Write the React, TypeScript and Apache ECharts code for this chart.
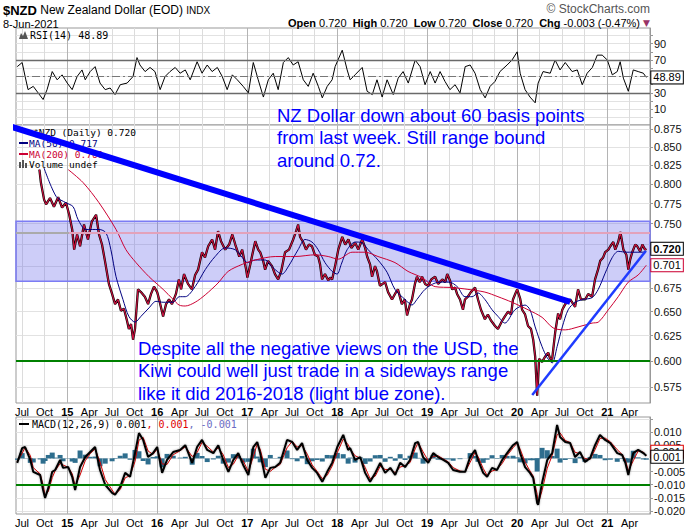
import React, { useEffect, useRef } from 'react';
import * as echarts from 'echarts';

const FONT = '"Liberation Sans", Arial, sans-serif';
const MONO = '"DejaVu Sans Mono", monospace';

// ---- Price (close) ----
const priceData: [string, number][] = [
  ['2014-09-10', 0.819], ['2014-09-16', 0.802], ['2014-09-29', 0.780], ['2014-10-07', 0.774], ['2014-10-23', 0.782], ['2014-11-08', 0.771], ['2014-11-25', 0.783], ['2014-12-11', 0.770], ['2014-12-27', 0.776],
  ['2015-01-09', 0.761], ['2015-01-21', 0.743], ['2015-01-29', 0.719], ['2015-02-10', 0.737], ['2015-02-22', 0.723], ['2015-03-10', 0.749], ['2015-03-26', 0.731], ['2015-04-11', 0.753], ['2015-04-28', 0.761], ['2015-05-10', 0.737], ['2015-05-22', 0.725], ['2015-06-03', 0.706], ['2015-06-19', 0.680], ['2015-07-02', 0.669], ['2015-07-14', 0.658], ['2015-07-26', 0.663], ['2015-08-07', 0.651], ['2015-08-19', 0.653], ['2015-08-31', 0.641], ['2015-09-08', 0.632], ['2015-09-17', 0.637], ['2015-09-25', 0.621], ['2015-10-03', 0.632], ['2015-10-15', 0.674], ['2015-10-27', 0.671], ['2015-11-12', 0.666], ['2015-11-25', 0.658], ['2015-12-07', 0.669], ['2015-12-19', 0.677],
  ['2016-01-01', 0.671], ['2016-01-09', 0.663], ['2016-01-25', 0.645], ['2016-02-06', 0.658], ['2016-02-18', 0.663], ['2016-03-01', 0.658], ['2016-03-17', 0.669], ['2016-03-29', 0.685], ['2016-04-07', 0.674], ['2016-04-19', 0.691], ['2016-05-05', 0.680], ['2016-05-21', 0.674], ['2016-06-03', 0.690], ['2016-06-15', 0.696], ['2016-07-01', 0.716], ['2016-07-13', 0.710], ['2016-07-26', 0.723], ['2016-08-11', 0.731], ['2016-08-23', 0.719], ['2016-09-04', 0.741], ['2016-09-16', 0.729], ['2016-10-03', 0.719], ['2016-10-19', 0.725], ['2016-11-01', 0.737], ['2016-11-13', 0.725], ['2016-11-29', 0.711], ['2016-12-11', 0.719], ['2016-12-27', 0.696],
  ['2017-01-01', 0.687], ['2017-01-13', 0.702], ['2017-01-21', 0.713], ['2017-02-02', 0.729], ['2017-02-14', 0.719], ['2017-02-22', 0.716], ['2017-03-06', 0.706], ['2017-03-14', 0.696], ['2017-03-26', 0.706], ['2017-04-11', 0.700], ['2017-04-23', 0.691], ['2017-05-06', 0.685], ['2017-05-18', 0.694], ['2017-06-03', 0.716], ['2017-06-19', 0.719], ['2017-07-06', 0.731], ['2017-07-18', 0.741], ['2017-07-26', 0.749], ['2017-08-03', 0.734], ['2017-08-15', 0.728], ['2017-08-27', 0.719], ['2017-09-08', 0.725], ['2017-09-20', 0.723], ['2017-10-02', 0.713], ['2017-10-15', 0.711], ['2017-10-23', 0.702], ['2017-10-31', 0.685], ['2017-11-12', 0.691], ['2017-11-25', 0.684], ['2017-12-03', 0.687], ['2017-12-11', 0.685], ['2017-12-23', 0.700],
  ['2018-01-05', 0.719], ['2018-01-21', 0.734], ['2018-02-02', 0.725], ['2018-02-15', 0.731], ['2018-02-27', 0.721], ['2018-03-15', 0.727], ['2018-03-27', 0.719], ['2018-04-12', 0.731], ['2018-04-24', 0.721], ['2018-05-02', 0.711], ['2018-05-14', 0.702], ['2018-05-22', 0.688], ['2018-06-03', 0.700], ['2018-06-11', 0.694], ['2018-06-23', 0.678], ['2018-07-14', 0.682], ['2018-07-26', 0.671], ['2018-08-11', 0.663], ['2018-08-23', 0.669], ['2018-09-04', 0.674], ['2018-09-20', 0.658], ['2018-10-02', 0.663], ['2018-10-11', 0.646], ['2018-10-23', 0.658], ['2018-10-31', 0.663], ['2018-11-12', 0.680], ['2018-11-20', 0.688], ['2018-12-02', 0.682], ['2018-12-11', 0.688], ['2018-12-23', 0.680],
  ['2019-01-05', 0.678], ['2019-01-17', 0.685], ['2019-02-02', 0.688], ['2019-02-14', 0.680], ['2019-03-03', 0.685], ['2019-03-15', 0.682], ['2019-03-23', 0.691], ['2019-04-03', 0.684], ['2019-04-12', 0.674], ['2019-04-24', 0.676], ['2019-05-02', 0.669], ['2019-05-14', 0.663], ['2019-05-26', 0.652], ['2019-06-03', 0.663], ['2019-06-15', 0.666], ['2019-06-27', 0.671], ['2019-07-14', 0.676], ['2019-07-26', 0.663], ['2019-08-07', 0.652], ['2019-08-23', 0.642], ['2019-09-04', 0.647], ['2019-09-16', 0.641], ['2019-10-03', 0.635], ['2019-10-15', 0.632], ['2019-10-31', 0.640], ['2019-11-12', 0.645], ['2019-11-25', 0.650], ['2019-12-07', 0.647], ['2019-12-15', 0.663], ['2019-12-27', 0.671],
  ['2020-01-01', 0.674], ['2020-01-13', 0.664], ['2020-01-21', 0.652], ['2020-02-02', 0.647], ['2020-02-14', 0.635], ['2020-02-26', 0.632], ['2020-03-06', 0.621], ['2020-03-14', 0.604], ['2020-03-22', 0.567], ['2020-03-30', 0.602], ['2020-04-11', 0.599], ['2020-04-23', 0.604], ['2020-05-06', 0.608], ['2020-05-14', 0.602], ['2020-05-22', 0.602], ['2020-06-03', 0.628], ['2020-06-15', 0.648], ['2020-06-23', 0.642], ['2020-07-02', 0.652], ['2020-07-14', 0.658], ['2020-08-03', 0.663], ['2020-08-23', 0.655], ['2020-09-04', 0.674], ['2020-09-16', 0.663], ['2020-10-03', 0.663], ['2020-10-15', 0.669], ['2020-10-31', 0.666], ['2020-11-12', 0.685], ['2020-11-24', 0.696], ['2020-12-03', 0.706], ['2020-12-15', 0.710], ['2020-12-23', 0.716],
  ['2021-01-05', 0.719], ['2021-01-13', 0.723], ['2021-01-25', 0.728], ['2021-02-02', 0.719], ['2021-02-14', 0.728], ['2021-02-23', 0.740], ['2021-03-07', 0.719], ['2021-03-19', 0.713], ['2021-03-27', 0.696], ['2021-04-04', 0.708], ['2021-04-12', 0.716], ['2021-04-24', 0.725], ['2021-05-02', 0.723], ['2021-05-14', 0.717], ['2021-05-23', 0.725], ['2021-06-03', 0.719], ['2021-06-08', 0.720],
];

const ma50Data: [string, number][] = [
  ['2014-09-29', 0.821], ['2014-11-17', 0.784], ['2014-12-27', 0.776], ['2015-01-25', 0.771], ['2015-02-14', 0.755], ['2015-03-18', 0.743], ['2015-05-10', 0.743], ['2015-06-07', 0.739], ['2015-06-27', 0.719], ['2015-07-18', 0.688], ['2015-08-15', 0.663], ['2015-09-08', 0.645], ['2015-10-03', 0.639], ['2015-10-27', 0.645], ['2015-11-29', 0.654], ['2015-12-27', 0.661],
  ['2016-01-25', 0.660], ['2016-03-06', 0.660], ['2016-03-30', 0.666], ['2016-04-24', 0.666], ['2016-06-03', 0.677], ['2016-07-14', 0.696], ['2016-08-23', 0.711], ['2016-10-03', 0.721], ['2016-11-12', 0.719], ['2016-12-11', 0.710],
  ['2017-01-01', 0.704], ['2017-02-02', 0.707], ['2017-03-14', 0.707], ['2017-04-12', 0.699], ['2017-05-22', 0.691], ['2017-06-15', 0.699], ['2017-07-26', 0.719], ['2017-08-23', 0.731], ['2017-09-20', 0.728], ['2017-10-15', 0.719], ['2017-11-12', 0.704], ['2017-12-11', 0.694], ['2017-12-31', 0.691],
  ['2018-01-17', 0.702], ['2018-02-10', 0.719], ['2018-03-15', 0.728], ['2018-04-12', 0.727], ['2018-05-06', 0.719], ['2018-06-15', 0.707], ['2018-07-22', 0.693], ['2018-08-23', 0.674], ['2018-10-03', 0.663], ['2018-10-31', 0.657], ['2018-11-20', 0.663], ['2018-12-23', 0.674],
  ['2019-02-02', 0.681], ['2019-03-14', 0.682], ['2019-04-12', 0.681], ['2019-05-06', 0.676], ['2019-06-03', 0.666], ['2019-07-02', 0.666], ['2019-07-26', 0.670], ['2019-08-23', 0.663], ['2019-09-21', 0.652], ['2019-10-15', 0.645], ['2019-11-12', 0.638], ['2019-12-23', 0.652],
  ['2020-02-02', 0.657], ['2020-02-22', 0.652], ['2020-03-14', 0.634], ['2020-04-11', 0.614], ['2020-05-02', 0.603], ['2020-05-22', 0.598], ['2020-06-11', 0.614], ['2020-07-02', 0.634], ['2020-07-26', 0.652], ['2020-08-23', 0.660], ['2020-09-25', 0.663], ['2020-10-31', 0.665], ['2020-11-25', 0.674], ['2020-12-23', 0.692],
  ['2021-01-21', 0.710], ['2021-02-14', 0.717], ['2021-03-22', 0.716], ['2021-04-11', 0.716], ['2021-05-22', 0.716], ['2021-06-08', 0.717],
];

const ma200Data: [string, number][] = [
  ['2015-01-05', 0.819], ['2015-03-06', 0.802], ['2015-05-10', 0.776], ['2015-07-18', 0.743], ['2015-08-27', 0.719], ['2015-10-07', 0.704], ['2015-11-29', 0.688],
  ['2016-01-25', 0.674], ['2016-03-06', 0.663], ['2016-03-30', 0.657], ['2016-04-24', 0.656], ['2016-06-03', 0.660], ['2016-07-14', 0.668], ['2016-09-04', 0.681], ['2016-10-15', 0.694], ['2016-12-11', 0.702],
  ['2017-02-02', 0.707], ['2017-04-24', 0.711], ['2017-07-14', 0.711], ['2017-10-03', 0.713], ['2017-11-25', 0.711],
  ['2018-01-05', 0.708], ['2018-03-02', 0.716], ['2018-04-24', 0.716], ['2018-06-15', 0.711], ['2018-08-23', 0.704], ['2018-10-15', 0.694], ['2018-12-11', 0.687],
  ['2019-02-02', 0.677], ['2019-04-12', 0.676], ['2019-06-15', 0.674], ['2019-08-23', 0.671], ['2019-10-15', 0.666], ['2019-12-11', 0.660],
  ['2020-02-14', 0.652], ['2020-04-11', 0.644], ['2020-05-26', 0.633], ['2020-07-14', 0.631], ['2020-09-04', 0.634], ['2020-10-31', 0.638], ['2020-11-25', 0.639],
  ['2021-01-05', 0.652], ['2021-02-14', 0.666], ['2021-03-27', 0.682], ['2021-05-06', 0.690], ['2021-06-08', 0.701],
];

// ---- RSI(14) ----
const rsiData: [string, number][] = [
  ['2014-06-12', 62], ['2014-07-02', 67], ['2014-07-14', 50], ['2014-07-26', 34], ['2014-08-16', 38], ['2014-09-05', 30], ['2014-09-25', 22], ['2014-10-11', 34], ['2014-11-01', 56], ['2014-11-21', 46], ['2014-12-11', 52],
  ['2015-01-01', 42], ['2015-01-21', 34], ['2015-02-10', 50], ['2015-03-02', 58], ['2015-03-15', 46], ['2015-04-04', 56], ['2015-04-24', 62], ['2015-05-14', 42], ['2015-06-04', 34], ['2015-06-24', 36], ['2015-07-14', 28], ['2015-08-04', 40], ['2015-09-01', 42], ['2015-09-25', 50], ['2015-10-11', 73], ['2015-10-23', 64], ['2015-11-13', 56], ['2015-12-03', 61], ['2015-12-23', 56],
  ['2016-01-13', 34], ['2016-02-02', 50], ['2016-02-22', 56], ['2016-03-14', 61], ['2016-04-03', 54], ['2016-04-24', 58], ['2016-05-14', 46], ['2016-06-11', 68], ['2016-07-01', 54], ['2016-07-22', 64], ['2016-08-11', 56], ['2016-09-01', 61], ['2016-09-21', 50], ['2016-10-11', 34], ['2016-11-01', 52], ['2016-11-21', 46], ['2016-12-15', 38],
  ['2017-01-05', 30], ['2017-01-25', 67], ['2017-02-14', 46], ['2017-03-07', 25], ['2017-03-27', 46], ['2017-04-16', 54], ['2017-05-06', 34], ['2017-05-27', 67], ['2017-06-16', 73], ['2017-07-06', 64], ['2017-07-26', 68], ['2017-08-16', 46], ['2017-09-05', 38], ['2017-09-25', 54], ['2017-10-16', 38], ['2017-11-01', 24], ['2017-11-21', 38], ['2017-12-11', 46], ['2017-12-23', 62],
  ['2018-01-21', 82], ['2018-02-10', 58], ['2018-02-22', 46], ['2018-03-14', 52], ['2018-04-12', 61], ['2018-05-02', 32], ['2018-05-23', 28], ['2018-06-11', 46], ['2018-07-02', 25], ['2018-07-22', 46], ['2018-08-16', 28], ['2018-09-05', 48], ['2018-09-25', 56], ['2018-10-16', 42], ['2018-11-13', 70], ['2018-12-03', 62], ['2018-12-23', 40],
  ['2019-01-13', 56], ['2019-02-02', 42], ['2019-02-22', 56], ['2019-03-14', 44], ['2019-04-03', 34], ['2019-04-24', 40], ['2019-05-14', 30], ['2019-06-04', 62], ['2019-06-24', 64], ['2019-07-14', 54], ['2019-08-04', 34], ['2019-08-24', 24], ['2019-09-13', 38], ['2019-10-03', 44], ['2019-10-23', 56], ['2019-11-21', 64], ['2019-12-11', 70],
  ['2020-01-01', 80], ['2020-01-13', 54], ['2020-02-02', 34], ['2020-02-22', 25], ['2020-03-14', 18], ['2020-03-26', 42], ['2020-04-15', 56], ['2020-05-14', 54], ['2020-06-03', 70], ['2020-06-23', 58], ['2020-07-14', 67], ['2020-08-11', 56], ['2020-09-01', 58], ['2020-09-21', 40], ['2020-10-11', 54], ['2020-11-01', 61], ['2020-11-21', 76], ['2020-12-11', 76],
  ['2021-01-01', 70], ['2021-01-21', 52], ['2021-02-10', 56], ['2021-02-22', 68], ['2021-03-07', 48], ['2021-03-27', 32], ['2021-04-16', 58], ['2021-05-06', 56], ['2021-05-27', 54], ['2021-06-08', 48.89],
];

// ---- MACD(12,26,9) ----
const macdDates: string[] = [
  '2014-06-12', '2014-07-02', '2014-07-14', '2014-08-04', '2014-08-16', '2014-09-13', '2014-09-25', '2014-10-03', '2014-10-16', '2014-11-01', '2014-11-13', '2014-12-03', '2014-12-15',
  '2015-01-05', '2015-01-21', '2015-02-02', '2015-02-22', '2015-03-15', '2015-04-04', '2015-04-24', '2015-05-14', '2015-06-04', '2015-07-02', '2015-07-14', '2015-08-04', '2015-08-24', '2015-09-13', '2015-10-03', '2015-10-19', '2015-11-05', '2015-11-25', '2015-12-15',
  '2016-01-01', '2016-01-21', '2016-02-10', '2016-03-06', '2016-04-03', '2016-04-24', '2016-05-22', '2016-06-11', '2016-07-01', '2016-07-22', '2016-08-16', '2016-09-05', '2016-09-25', '2016-10-16', '2016-11-05', '2016-11-25', '2016-12-15',
  '2017-01-05', '2017-01-25', '2017-02-10', '2017-02-22', '2017-03-15', '2017-04-04', '2017-04-24', '2017-05-14', '2017-06-11', '2017-07-02', '2017-07-22', '2017-08-11', '2017-09-01', '2017-09-21', '2017-10-11', '2017-11-01', '2017-11-21', '2017-12-11',
  '2018-01-01', '2018-01-25', '2018-02-14', '2018-02-22', '2018-03-14', '2018-04-04', '2018-04-24', '2018-05-14', '2018-06-04', '2018-06-24', '2018-07-14', '2018-08-04', '2018-08-24', '2018-09-13', '2018-10-03', '2018-10-23', '2018-11-13', '2018-11-25', '2018-12-15',
  '2019-01-05', '2019-01-25', '2019-02-14', '2019-03-07', '2019-03-27', '2019-04-16', '2019-05-14', '2019-06-04', '2019-06-24', '2019-07-14', '2019-07-26', '2019-08-16', '2019-09-01', '2019-09-21', '2019-10-11', '2019-11-01', '2019-11-21', '2019-12-15',
  '2020-01-01', '2020-01-13', '2020-02-02', '2020-02-22', '2020-03-06', '2020-03-22', '2020-03-26', '2020-04-11', '2020-05-02', '2020-05-22', '2020-06-11', '2020-06-23', '2020-07-14', '2020-08-03', '2020-08-23', '2020-09-12', '2020-10-02', '2020-10-23', '2020-11-12', '2020-12-02', '2020-12-23',
  '2021-01-13', '2021-02-10', '2021-03-02', '2021-03-15', '2021-03-27', '2021-04-16', '2021-05-06', '2021-05-27', '2021-06-08',
];
const macdLine: number[] = [
  -0.0017, 0.0039, 0.0043, -0.0006, -0.0051, -0.0063, -0.0120, -0.0150, -0.0113, -0.0051, -0.0044, -0.0006, -0.0036,
  -0.0033, -0.0070, -0.0120, -0.0033, 0.0005, 0.0024, 0.0043, -0.0044, -0.0100, -0.0131, -0.0138, -0.0108, -0.0055, -0.0070, 0.0020, 0.0096, 0.0070, 0.0005, 0.0020,
  0.0043, -0.0055, -0.0006, 0.0024, 0.0032, 0.0050, -0.0017, 0.0043, 0.0070, 0.0032, 0.0020, 0.0050, -0.0006, -0.0051, -0.0006, 0.0020, -0.0025,
  -0.0063, 0.0043, 0.0062, 0.0020, -0.0074, -0.0036, -0.0033, -0.0017, 0.0070, 0.0062, 0.0032, 0.0058, -0.0006, -0.0036, -0.0055, -0.0089, -0.0051, -0.0017,
  0.0043, 0.0089, 0.0032, 0.0039, -0.0006, 0.0005, -0.0055, -0.0089, -0.0055, -0.0017, -0.0055, -0.0036, -0.0063, -0.0017, -0.0033, -0.0006, 0.0058, 0.0062, 0.0005,
  -0.0017, 0.0020, 0.0005, -0.0006, -0.0017, -0.0044, -0.0051, -0.0051, 0.0005, 0.0032, -0.0006, -0.0055, -0.0070, -0.0036, -0.0044, -0.0006, 0.0020, 0.0050,
  0.0062, 0.0020, -0.0033, -0.0055, -0.0074, -0.0169, -0.0176, -0.0093, -0.0006, 0.0020, 0.0127, 0.0081, 0.0062, 0.0058, 0.0005, 0.0024, -0.0014, 0.0001, 0.0050, 0.0089, 0.0070,
  0.0058, 0.0020, 0.0013, -0.0017, -0.0063, 0.0020, 0.0032, 0.0020, 0.0010,
];
const signalLine: number[] = [
  -0.0012, 0.0019, 0.0042, 0.0011, -0.0035, -0.0059, -0.0100, -0.0140, -0.0126, -0.0073, -0.0047, -0.0019, -0.0025,
  -0.0034, -0.0058, -0.0103, -0.0063, -0.0009, 0.0018, 0.0036, -0.0014, -0.0080, -0.0120, -0.0136, -0.0118, -0.0074, -0.0065, -0.0012, 0.0069, 0.0080, 0.0028, 0.0015,
  0.0035, -0.0021, -0.0023, 0.0014, 0.0029, 0.0044, 0.0007, 0.0022, 0.0061, 0.0046, 0.0024, 0.0040, 0.0014, -0.0035, -0.0022, 0.0011, -0.0009,
  -0.0050, 0.0006, 0.0055, 0.0035, -0.0041, -0.0049, -0.0034, -0.0023, 0.0040, 0.0065, 0.0043, 0.0049, 0.0016, -0.0025, -0.0049, -0.0077, -0.0064, -0.0029,
  0.0022, 0.0073, 0.0052, 0.0036, 0.0010, 0.0001, -0.0034, -0.0077, -0.0067, -0.0030, -0.0042, -0.0042, -0.0054, -0.0033, -0.0027, -0.0016, 0.0036, 0.0060, 0.0025,
  -0.0009, 0.0007, 0.0010, -0.0002, -0.0013, -0.0035, -0.0048, -0.0051, -0.0015, 0.0023, 0.0007, -0.0038, -0.0065, -0.0048, -0.0042, -0.0019, 0.0011, 0.0040,
  0.0058, 0.0035, -0.0014, -0.0048, -0.0067, -0.0136, -0.0173, -0.0122, -0.0037, 0.0011, 0.0090, 0.0097, 0.0068, 0.0060, 0.0023, 0.0018, -0.0001, -0.0004, 0.0033, 0.0076, 0.0077,
  0.0063, 0.0033, 0.0015, -0.0006, -0.0047, -0.0009, 0.0028, 0.0024, 0.0010,
];
const histogram: number[] = [
  -0.0005, 0.0020, 0.0001, -0.0017, -0.0016, -0.0004, -0.0020, -0.0010, 0.0013, 0.0022, 0.0003, 0.0013, -0.0011,
  0.0001, -0.0012, -0.0017, 0.0030, 0.0014, 0.0006, 0.0007, -0.0030, -0.0020, -0.0011, -0.0002, 0.0010, 0.0019, -0.0005, 0.0032, 0.0027, -0.0010, -0.0023, 0.0005,
  0.0008, -0.0034, 0.0017, 0.0010, 0.0003, 0.0006, -0.0024, 0.0021, 0.0009, -0.0014, -0.0004, 0.0010, -0.0020, -0.0016, 0.0016, 0.0009, -0.0016,
  -0.0013, 0.0037, 0.0007, -0.0015, -0.0033, 0.0013, 0.0001, 0.0006, 0.0030, -0.0003, -0.0011, 0.0009, -0.0022, -0.0011, -0.0006, -0.0012, 0.0013, 0.0012,
  0.0021, 0.0016, -0.0020, 0.0003, -0.0016, 0.0004, -0.0021, -0.0012, 0.0012, 0.0013, -0.0013, 0.0006, -0.0009, 0.0016, -0.0006, 0.0010, 0.0022, 0.0002, -0.0020,
  -0.0008, 0.0013, -0.0005, -0.0004, -0.0004, -0.0009, -0.0003, 0.0000, 0.0020, 0.0009, -0.0013, -0.0017, -0.0005, 0.0012, -0.0002, 0.0013, 0.0009, 0.0010,
  0.0004, -0.0015, -0.0019, -0.0007, -0.0007, -0.0050, -0.0003, 0.0040, 0.0031, 0.0009, 0.0037, -0.0016, -0.0006, -0.0002, -0.0018, 0.0006, -0.0013, 0.0005, 0.0017, 0.0013, -0.0007,
  -0.0005, -0.0013, -0.0002, -0.0011, -0.0016, 0.0029, 0.0004, -0.0004, -0.0005,
];

// ---- Annotations (levels & trend lines) ----
const zoneLow = 0.683;
const zoneHigh = 0.753;
const supportLevel = 0.596;
const resistanceLevel = 0.7395;
const macdSupport = -0.0105;
const downTrend: [string, number][] = [['2014-04-04', 0.8832], ['2020-08-03', 0.6604]];
const upTrend: [string, number][] = [['2020-03-02', 0.5676], ['2021-06-06', 0.7175]];

// ---- Axis ticks ----
const quarterTicks: string[] = [
  '2014-07-01', '2014-10-01',
  '2015-01-01', '2015-04-01', '2015-07-01', '2015-10-01',
  '2016-01-01', '2016-04-01', '2016-07-01', '2016-10-01',
  '2017-01-01', '2017-04-01', '2017-07-01', '2017-10-01',
  '2018-01-01', '2018-04-01', '2018-07-01', '2018-10-01',
  '2019-01-01', '2019-04-01', '2019-07-01', '2019-10-01',
  '2020-01-01', '2020-04-01', '2020-07-01', '2020-10-01',
  '2021-01-01', '2021-04-01',
];
const monthNames = ['Jan', 'Feb', 'Mar', 'Apr', 'May', 'Jun', 'Jul', 'Aug', 'Sep', 'Oct', 'Nov', 'Dec'];
const priceTicks = [0.575, 0.6, 0.625, 0.65, 0.675, 0.7, 0.725, 0.75, 0.775, 0.8, 0.825, 0.85, 0.875];
const priceLabels = [0.575, 0.6, 0.625, 0.65, 0.675, 0.75, 0.775, 0.8, 0.825, 0.85, 0.875];
const rsiTicks = [0, 10, 20, 30, 40, 50, 60, 70, 80, 90, 100];
const rsiLabels = [10, 30, 70, 90];
const macdTicks = [-0.02, -0.015, -0.01, -0.005, 0, 0.005, 0.01, 0.015];
const macdLabels = [-0.02, -0.015, -0.01, -0.005, 0.005, 0.01];

const toTs = (s: string) => {
  const p = s.split('-');
  return Date.UTC(+p[0], +p[1] - 1, +p[2]);
};
const pairs = (arr: [string, number][]) => arr.map(([d, v]) => [toTs(d), v]);

const X_MIN = Date.UTC(2014, 5, 7);
const X_MAX = Date.UTC(2021, 5, 23);
const qTs = quarterTicks.map(toTs);

const fmtX = (v: number) => {
  const d = new Date(v);
  const m = d.getUTCMonth();
  if (m === 0) return '{y|' + String(d.getUTCFullYear()).slice(2) + '}';
  return monthNames[m];
};

const mkX = (gridIndex: number, showLabels: boolean) => ({
  type: 'value',
  gridIndex,
  min: X_MIN,
  max: X_MAX,
  axisLine: { show: false },
  axisTick: { show: false, customValues: qTs },
  axisLabel: {
    show: showLabels,
    customValues: qTs,
    formatter: fmtX,
    margin: 3,
    fontSize: 11,
    color: '#000',
    fontFamily: FONT,
    rich: { y: { fontWeight: 'bold', fontSize: 11, fontFamily: FONT, color: '#000' } },
  },
  splitLine: { show: true, lineStyle: { color: ['#dcdcdc', '#dcdcdc', '#b4b4b4', '#dcdcdc'], width: 1 } },
});

const mkY = (gridIndex: number, ticks: number[], labels: number[], fmt: (v: number) => string, extra: any) => ({
  gridIndex,
  position: 'right',
  axisLine: { show: true, lineStyle: { color: '#999' } },
  axisTick: { show: true, length: 3, lineStyle: { color: '#999' }, customValues: ticks },
  axisLabel: { customValues: labels, formatter: fmt, fontSize: 11, color: '#111', fontFamily: FONT, margin: 4 },
  splitLine: { show: true, lineStyle: { color: '#e2e2e2' } },
  ...extra,
});

const tag = (border: string, bold: boolean, offset?: number[]) => ({
  show: true,
  distance: 5,
  offset: offset || [0, 0],
  backgroundColor: '#fff',
  borderColor: border,
  borderWidth: 1,
  padding: [1, 2, 0, 2],
  fontSize: 11,
  fontFamily: FONT,
  fontWeight: bold ? 'bold' : 'normal',
  color: '#000',
});

const gridBase = { left: 16, right: 50, show: true, borderColor: '#999', borderWidth: 1, backgroundColor: '#fff', containLabel: false, outerBoundsMode: 'none' };

const option: any = {
  animation: false,
  backgroundColor: '#fff',
  grid: [
    { ...gridBase, top: 28, height: 97 },
    { ...gridBase, top: 125, height: 278 },
    { ...gridBase, top: 417, height: 97 },
  ],
  xAxis: [mkX(0, false), mkX(1, true), mkX(2, true)],
  yAxis: [
    mkY(0, rsiTicks, rsiLabels, (v) => String(v), { type: 'value', min: -9, max: 109 }),
    mkY(1, priceTicks, priceLabels, (v) => Number(v).toFixed(3), { type: 'log', logBase: 10, min: 0.5602, max: 0.8807 }),
    mkY(2, macdTicks, macdLabels, (v) => Number(v).toFixed(3), { type: 'value', min: -0.0211, max: 0.0157 }),
  ],
  series: [
    // RSI
    {
      type: 'line', xAxisIndex: 0, yAxisIndex: 0, data: pairs(rsiData), showSymbol: false, silent: true,
      lineStyle: { color: '#000', width: 1 },
      endLabel: { ...tag('#000', false), formatter: (p: any) => p.value[1].toFixed(2) },
      markLine: {
        silent: true, symbol: 'none', label: { show: false },
        data: [
          { yAxis: 70, lineStyle: { color: '#6a6a6a', width: 1.3, type: 'solid' } },
          { yAxis: 30, lineStyle: { color: '#6a6a6a', width: 1.3, type: 'solid' } },
          { yAxis: 50, lineStyle: { color: '#777', width: 1, type: [8, 3, 2, 3] } },
        ],
      },
    },
    // Price underlay (black) carrying the zone and horizontal levels
    {
      type: 'line', xAxisIndex: 1, yAxisIndex: 1, data: pairs(priceData), showSymbol: false, silent: true,
      lineStyle: { color: '#000', width: 2.3 },
      markArea: {
        silent: true,
        itemStyle: { color: 'rgba(100,100,232,0.32)', borderColor: '#7c7cf4', borderWidth: 1.5 },
        data: [[{ yAxis: zoneHigh }, { yAxis: zoneLow }]],
      },
      markLine: {
        silent: true, symbol: 'none', label: { show: false },
        data: [
          { yAxis: supportLevel, lineStyle: { color: '#008000', width: 2.2, type: 'solid' } },
          [
            { coord: [X_MIN, resistanceLevel], lineStyle: { color: '#aaaaaa', width: 2, type: 'solid' } },
            { coord: [toTs('2015-01-09'), resistanceLevel] },
          ],
          [
            { coord: [toTs('2015-01-09'), resistanceLevel], lineStyle: { color: '#e3a2bb', width: 2, type: 'solid' } },
            { coord: [X_MAX, resistanceLevel] },
          ],
        ],
      },
    },
    {
      type: 'line', xAxisIndex: 1, yAxisIndex: 1, data: pairs(priceData), showSymbol: false, silent: true,
      lineStyle: { color: '#c8103e', width: 1.2 },
      endLabel: { ...tag('#000', true), formatter: (p: any) => p.value[1].toFixed(3) },
    },
    {
      type: 'line', xAxisIndex: 1, yAxisIndex: 1, data: pairs(ma50Data), showSymbol: false, silent: true, smooth: 0.3,
      lineStyle: { color: '#000080', width: 1 },
    },
    {
      type: 'line', xAxisIndex: 1, yAxisIndex: 1, data: pairs(ma200Data), showSymbol: false, silent: true, smooth: 0.3,
      lineStyle: { color: '#cc0033', width: 1 },
      endLabel: { ...tag('#cc0033', false), formatter: (p: any) => p.value[1].toFixed(3) },
    },
    {
      type: 'line', xAxisIndex: 1, yAxisIndex: 1, data: pairs(downTrend), showSymbol: false, silent: true, clip: false, z: 10,
      lineStyle: { color: '#0000ff', width: 6 },
    },
    {
      type: 'line', xAxisIndex: 1, yAxisIndex: 1, data: pairs(upTrend), showSymbol: false, silent: true, clip: false, z: 10,
      lineStyle: { color: '#1f3cff', width: 2.5 },
    },
    // MACD
    {
      type: 'bar', xAxisIndex: 2, yAxisIndex: 2, silent: true, barWidth: 5,
      data: macdDates.map((d, i) => [toTs(d), histogram[i]]),
      itemStyle: { color: '#2e6e8e' },
      markLine: {
        silent: true, symbol: 'none', label: { show: false },
        data: [{ yAxis: macdSupport, lineStyle: { color: '#008000', width: 2.2, type: 'solid' } }],
      },
    },
    {
      type: 'line', xAxisIndex: 2, yAxisIndex: 2, silent: true, showSymbol: false,
      data: macdDates.map((d, i) => [toTs(d), signalLine[i]]),
      lineStyle: { color: '#e00000', width: 1 },
      endLabel: { ...tag('#dd0000', false, [0, -4]), formatter: (p: any) => p.value[1].toFixed(3) },
    },
    {
      type: 'line', xAxisIndex: 2, yAxisIndex: 2, silent: true, showSymbol: false,
      data: macdDates.map((d, i) => [toTs(d), macdLine[i]]),
      lineStyle: { color: '#000', width: 2, shadowColor: 'rgba(0,0,0,0.35)', shadowBlur: 2 },
      endLabel: { ...tag('#000', false, [0, 1]), formatter: (p: any) => p.value[1].toFixed(3) },
    },
  ],
  graphic: [
    {
      type: 'text', x: 3, y: 10, z: 50,
      style: {
        text: '{a|$NZD} {b|New Zealand Dollar (EOD)} {c|INDX}', verticalAlign: 'middle', fontFamily: FONT, fontSize: 12,
        rich: {
          a: { fontSize: 13, fontWeight: 'bold', fontFamily: FONT, fill: '#000' },
          b: { fontSize: 12, fontFamily: FONT, fill: '#000' },
          c: { fontSize: 10, fontFamily: FONT, fill: '#000' },
        },
      },
    },
    { type: 'text', x: 3, y: 24, z: 50, style: { text: '8-Jun-2021', verticalAlign: 'middle', fontFamily: FONT, fontSize: 11, fill: '#000' } },
    {
      type: 'text', x: 650, y: 23, z: 50,
      style: {
        text: '{k|Open} 0.720  {k|High} 0.720  {k|Low} 0.720  {k|Close} 0.720  {k|Chg} -0.003 (-0.47%) {t|▼}',
        align: 'right', verticalAlign: 'middle', fontFamily: FONT, fontSize: 11, fill: '#000',
        rich: {
          k: { fontSize: 11, fontWeight: 'bold', fontFamily: FONT, fill: '#000' },
          t: { fontSize: 9, fontFamily: '"DejaVu Sans", sans-serif', fill: '#993366' },
        },
      },
    },
    { type: 'text', x: 650, y: 9, z: 50, style: { text: '© StockCharts.com', align: 'right', verticalAlign: 'middle', fontFamily: FONT, fontSize: 12, fill: '#555' } },
    // RSI legend
    { type: 'polygon', z: 50, shape: { points: [[19, 39], [21, 33], [23, 36], [25, 31], [28, 39]] }, style: { fill: '#555' } },
    { type: 'text', x: 30, y: 35, z: 50, style: { text: 'RSI(14) 48.89', verticalAlign: 'middle', fontFamily: MONO, fontSize: 10, fill: '#000' } },
    // price legend
    { type: 'text', x: 33, y: 132, z: 5, style: { text: '$NZD (Daily) 0.720', verticalAlign: 'middle', fontFamily: MONO, fontSize: 9.5, fill: '#000' } },
    { type: 'rect', z: 5, shape: { x: 19, y: 142, width: 9, height: 2 }, style: { fill: '#000080' } },
    { type: 'text', x: 29, y: 143, z: 5, style: { text: 'MA(50) 0.717', verticalAlign: 'middle', fontFamily: MONO, fontSize: 9.5, fill: '#000080' } },
    { type: 'rect', z: 5, shape: { x: 19, y: 153, width: 9, height: 2 }, style: { fill: '#cc0033' } },
    { type: 'text', x: 29, y: 154, z: 5, style: { text: 'MA(200) 0.701', verticalAlign: 'middle', fontFamily: MONO, fontSize: 9.5, fill: '#cc0033' } },
    { type: 'rect', z: 5, shape: { x: 19, y: 162, width: 2, height: 6 }, style: { fill: '#555' } },
    { type: 'rect', z: 5, shape: { x: 22, y: 160, width: 2, height: 8 }, style: { fill: '#555' } },
    { type: 'rect', z: 5, shape: { x: 25, y: 163, width: 2, height: 5 }, style: { fill: '#555' } },
    { type: 'text', x: 29, y: 164, z: 5, style: { text: 'Volume undef', verticalAlign: 'middle', fontFamily: MONO, fontSize: 9.5, fill: '#000' } },
    // MACD legend
    { type: 'rect', z: 50, shape: { x: 19, y: 423, width: 10, height: 2 }, style: { fill: '#000' } },
    {
      type: 'text', x: 32, y: 424, z: 50,
      style: {
        text: 'MACD(12,26,9) 0.001{r|, 0.001}{b|, -0.001}', verticalAlign: 'middle', fontFamily: MONO, fontSize: 10, fill: '#000',
        rich: { r: { fontFamily: MONO, fontSize: 10, fill: '#e00000' }, b: { fontFamily: MONO, fontSize: 10, fill: '#6b6bc4' } },
      },
    },
    // Commentary
    {
      type: 'text', x: 277, y: 104, z: 100,
      style: {
        text: 'NZ Dollar down about 60 basis points\nfrom last week. Still range bound\naround 0.72.',
        verticalAlign: 'top', fontFamily: FONT, fontSize: 18.5, lineHeight: 22.5, fill: '#0000ff',
      },
    },
    {
      type: 'text', x: 138, y: 337, z: 100,
      style: {
        text: 'Despite all the negative views on the USD, the\nKiwi could well just trade in a sideways range\nlike it did 2016-2018 (light blue zone).',
        verticalAlign: 'top', fontFamily: FONT, fontSize: 18.5, lineHeight: 22.5, fill: '#0000ff',
      },
    },
  ],
};

export default function App() {
  const ref = useRef<HTMLDivElement>(null);
  useEffect(() => {
    document.body.style.margin = '0';
    const chart = echarts.init(ref.current as HTMLDivElement, null, { renderer: 'svg' });
    chart.setOption(option);
    return () => chart.dispose();
  }, []);
  return <div ref={ref} style={{ width: 700, height: 530, background: '#fff' }} />;
}
